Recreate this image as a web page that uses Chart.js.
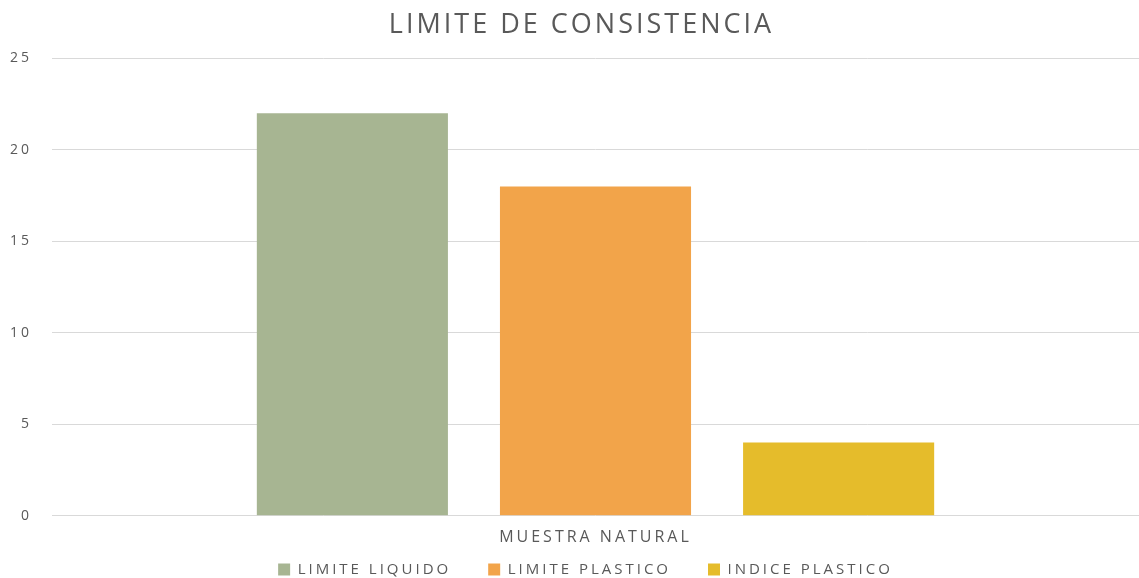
<!DOCTYPE html>
<html>
<head>
<meta charset="utf-8">
<script src="https://cdn.jsdelivr.net/npm/chart.js@4"></script>
<style>
  html, body { margin: 0; padding: 0; background: #fff; }
  #wrap { width: 1139px; height: 578px; }
</style>
</head>
<body>
<div id="wrap"><canvas id="chart" width="1139" height="578"></canvas></div>
<script>
// datos del grafico
const categories = ['MUESTRA NATURAL'];
const seriesNames = ['LIMITE LIQUIDO', 'LIMITE PLASTICO', 'INDICE PLASTICO'];
const seriesValues = [[22], [18], [4]];
const seriesColors = ['#a7b592', '#f2a44a', '#e5bc2b'];
const yTicks = [0, 5, 10, 15, 20, 25];

const textColor = '#595959';
const fontFamily = "'Open Sans', Lato, sans-serif";

// la fuente original es muy ancha, se imita con espaciado entre letras
// y la leyenda se sube un poco (la separacion entre items es grande)
const wideText = {
  id: 'wideText',
  beforeLayout: chart => { chart.ctx.letterSpacing = '3px'; },
  afterLayout: chart => {
    const lg = chart.legend;
    lg.top = lg.bottom - 53;
    lg.left += 16;
    lg.right += 16;
    chart.titleBlock.left += 12;
    chart.titleBlock.right += 12;
  },
  beforeDraw: chart => { chart.ctx.letterSpacing = '3px'; }
};

const datasets = seriesNames.map((name, i) => ({
  label: name,
  data: seriesValues[i],
  backgroundColor: seriesColors[i],
  borderWidth: 0,
  barPercentage: 0.786,
  categoryPercentage: 0.671
}));

new Chart(document.getElementById('chart').getContext('2d'), {
  type: 'bar',
  data: { labels: categories, datasets },
  plugins: [wideText],
  options: {
    responsive: false,
    animation: false,
    layout: { padding: 0 },
    scales: {
      x: {
        grid: { display: false, drawTicks: false },
        border: { display: false },
        ticks: { color: textColor, font: { family: fontFamily, size: 16 }, padding: 12 }
      },
      y: {
        min: 0,
        max: 25,
        afterBuildTicks: axis => { axis.ticks = yTicks.map(v => ({ value: v })); },
        afterFit: axis => { axis.width = 52; },
        grid: { color: '#d9d9d9', lineWidth: 1, drawTicks: false },
        border: { display: false },
        ticks: { color: textColor, font: { family: fontFamily, size: 14 }, padding: 20 }
      }
    },
    plugins: {
      title: {
        display: true,
        text: 'LIMITE DE CONSISTENCIA',
        color: textColor,
        font: { family: fontFamily, size: 27, weight: 'normal' },
        padding: { top: 9, bottom: 17 }
      },
      legend: {
        position: 'bottom',
        maxHeight: 19,
        labels: {
          color: textColor,
          font: { family: fontFamily, size: 15 },
          boxWidth: 12,
          boxHeight: 12,
          padding: 37
        }
      },
      tooltip: { enabled: false }
    }
  }
});
</script>
</body>
</html>
